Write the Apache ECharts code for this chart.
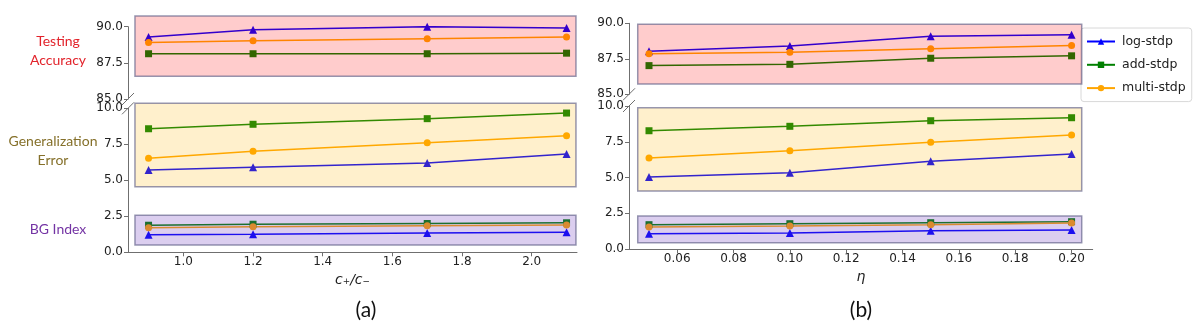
<!DOCTYPE html>
<html><head><meta charset="utf-8">
<script src="https://cdn.jsdelivr.net/npm/echarts@6/dist/echarts.min.js"></script>
<style>html,body{margin:0;padding:0;background:#fff}#c{width:1196px;height:329px}</style>
</head><body><div id="c"></div>
<script>
// ---------- data ----------
const seriesNames = ['log-stdp', 'add-stdp', 'multi-stdp'];
const ratioX = [0.9, 1.2, 1.7, 2.1];          // panel (a) x: c+/c-
const etaX = [0.05, 0.10, 0.15, 0.20];        // panel (b) x: eta
const ratioTicks = [1.0, 1.2, 1.4, 1.6, 1.8, 2.0];
const etaTicks = [0.06, 0.08, 0.10, 0.12, 0.14, 0.16, 0.18, 0.20];

// panel (a)
const aAccLog = [89.28, 89.79, 90.00, 89.91];
const aAccAdd = [88.13, 88.13, 88.13, 88.17];
const aAccMulti = [88.90, 89.02, 89.16, 89.28];
const aGenLog = [5.72, 5.90, 6.20, 6.83];
const aGenAdd = [8.58, 8.89, 9.28, 9.67];
const aGenMulti = [6.53, 7.01, 7.61, 8.10];
const aBgLog = [1.22, 1.25, 1.34, 1.39];
const aBgAdd = [1.88, 1.95, 2.00, 2.05];
const aBgMulti = [1.70, 1.77, 1.84, 1.89];

// panel (b)
const bAccLog = [88.04, 88.40, 89.09, 89.19];
const bAccAdd = [87.02, 87.11, 87.54, 87.71];
const bAccMulti = [87.86, 87.97, 88.21, 88.43];
const bGenLog = [5.03, 5.34, 6.13, 6.64];
const bGenAdd = [8.27, 8.58, 8.97, 9.18];
const bGenMulti = [6.36, 6.87, 7.46, 7.97];
const bBgLog = [1.07, 1.12, 1.28, 1.33];
const bBgAdd = [1.70, 1.77, 1.84, 1.91];
const bBgMulti = [1.54, 1.61, 1.70, 1.82];

// shaded band extents (data units)
const aBandX = [0.861, 2.127];
const bBandX = [0.046, 0.2036];
const aAccBand = [86.58, 90.74];
const aGenBand = [4.56, 10.35];
const aBgBand = [0.51, 2.57];
const bAccBand = [85.73, 89.93];
const bGenBand = [4.06, 9.88];
const bBgBand = [0.44, 2.31];

// axis ranges
const upperRange = [85, 90];
const lowerRange = [0, 10];
const aXRange = [0.841, 2.13];
const bXRange = [0.0429, 0.2075];

// ---------- styles ----------
const colors = {'log-stdp': '#0000ff', 'add-stdp': '#008000', 'multi-stdp': '#ffa500'};
const symbols = {'log-stdp': 'triangle', 'add-stdp': 'rect', 'multi-stdp': 'circle'};
const symSizes = {'log-stdp': 8, 'add-stdp': 7, 'multi-stdp': 7};
const AX = '#6f6f6f';
const TXT = '#222';
const FONT = 'DejaVu Sans';

function line(name, xs, ys, gi) {
  return {
    type: 'line', name, xAxisIndex: gi, yAxisIndex: gi,
    data: xs.map((x, i) => [x, ys[i]]),
    symbol: symbols[name], symbolSize: symSizes[name], showSymbol: true,
    lineStyle: {width: 1.5, color: colors[name]},
    itemStyle: {color: colors[name]},
    silent: true, animation: false, z: 2
  };
}
function band(gi, xr, yr, fill) {
  return {
    type: 'custom', xAxisIndex: gi, yAxisIndex: gi, z: 10, silent: true, clip: false,
    animation: false,
    data: [[xr[0], yr[0], xr[1], yr[1]]],
    encode: {x: [0, 2], y: [1, 3]},
    renderItem: (p, api) => {
      const p0 = api.coord([api.value(0), api.value(3)]);
      const p1 = api.coord([api.value(2), api.value(1)]);
      return {type: 'rect', shape: {x: p0[0], y: p0[1], width: p1[0] - p0[0], height: p1[1] - p0[1]},
        style: {fill: fill, stroke: 'rgba(95,95,135,0.65)', lineWidth: 1.5}};
    }
  };
}
function breakMark(gi, x, y) {
  return {
    type: 'custom', xAxisIndex: gi, yAxisIndex: gi, z: 11, silent: true, clip: false,
    animation: false,
    data: [[x, y]],
    renderItem: (p, api) => {
      const c = api.coord([api.value(0), api.value(1)]);
      return {type: 'line', shape: {x1: c[0] - 6, y1: c[1] + 6, x2: c[0] + 6, y2: c[1] - 6},
        style: {stroke: AX, lineWidth: 1}};
    }
  };
}
function yAxis(gi, r) {
  return {
    type: 'value', gridIndex: gi, min: r[0], max: r[1], interval: 2.5,
    splitLine: {show: false},
    axisLine: {show: true, lineStyle: {color: AX, width: 1}},
    axisTick: {show: true, length: 4, lineStyle: {color: AX}},
    axisLabel: {show: true, color: TXT, fontFamily: FONT, fontSize: 12, margin: 5,
      showMinLabel: true, showMaxLabel: true, formatter: v => v.toFixed(1)}
  };
}
function xAxis(gi, r, ticks, dec, show, name) {
  return {
    type: 'value', gridIndex: gi, min: r[0], max: r[1], show: show,
    splitLine: {show: false},
    axisLine: {show: true, onZero: false, lineStyle: {color: AX, width: 1}},
    axisTick: {show: true, length: 4, customValues: ticks, lineStyle: {color: AX}},
    axisLabel: {show: true, customValues: ticks, color: TXT, fontFamily: FONT, fontSize: 12, margin: 4,
      formatter: v => v.toFixed(dec)},
    name: name, nameLocation: 'middle', nameGap: 21,
    nameTextStyle: {fontFamily: FONT, fontStyle: 'italic', fontSize: 14, color: TXT}
  };
}

const grids = [
  {left: 128, top: 26.7, width: 449, height: 72.3},
  {left: 128, top: 108.3, width: 449, height: 144},
  {left: 629, top: 23.3, width: 463.7, height: 71},
  {left: 629, top: 106, width: 463.7, height: 143}
];

const series = [];
// panel (a)
series.push(line('log-stdp', ratioX, aAccLog, 0), line('add-stdp', ratioX, aAccAdd, 0), line('multi-stdp', ratioX, aAccMulti, 0));
series.push(line('log-stdp', ratioX, aGenLog, 1), line('add-stdp', ratioX, aGenAdd, 1), line('multi-stdp', ratioX, aGenMulti, 1));
series.push(line('log-stdp', ratioX, aBgLog, 1), line('add-stdp', ratioX, aBgAdd, 1), line('multi-stdp', ratioX, aBgMulti, 1));
// panel (b)
series.push(line('log-stdp', etaX, bAccLog, 2), line('add-stdp', etaX, bAccAdd, 2), line('multi-stdp', etaX, bAccMulti, 2));
series.push(line('log-stdp', etaX, bGenLog, 3), line('add-stdp', etaX, bGenAdd, 3), line('multi-stdp', etaX, bGenMulti, 3));
series.push(line('log-stdp', etaX, bBgLog, 3), line('add-stdp', etaX, bBgAdd, 3), line('multi-stdp', etaX, bBgMulti, 3));

const RED = 'rgba(255,0,0,0.2)', YEL = 'rgba(255,180,0,0.2)', PUR = 'rgba(110,60,190,0.25)';
series.push(band(0, aBandX, aAccBand, RED), band(1, aBandX, aGenBand, YEL), band(1, aBandX, aBgBand, PUR));
series.push(band(2, bBandX, bAccBand, RED), band(3, bBandX, bGenBand, YEL), band(3, bBandX, bBgBand, PUR));
series.push(breakMark(0, aXRange[0], upperRange[0]), breakMark(1, aXRange[0], lowerRange[1]));
series.push(breakMark(2, bXRange[0], upperRange[0]), breakMark(3, bXRange[0], lowerRange[1]));

const LBL = 'Lato';
const option = {
  animation: false,
  backgroundColor: '#fff',
  grid: grids,
  xAxis: [
    xAxis(0, aXRange, ratioTicks, 1, false, ''),
    xAxis(1, aXRange, ratioTicks, 1, true, 'c\u208A/c\u208B'),
    xAxis(2, bXRange, etaTicks, 2, false, ''),
    xAxis(3, bXRange, etaTicks, 2, true, '\u03B7')
  ],
  yAxis: [yAxis(0, upperRange), yAxis(1, lowerRange), yAxis(2, upperRange), yAxis(3, lowerRange)],
  legend: {
    data: seriesNames, orient: 'vertical', left: 1081, top: 28,
    itemWidth: 28, itemHeight: 8, itemGap: 10.3, padding: [7, 6, 7, 5],
    backgroundColor: '#fff', borderColor: '#d8d8d8', borderWidth: 1, borderRadius: 3,
    textStyle: {fontFamily: FONT, fontSize: 12.5, color: TXT, padding: [0, 0, 0, 2]}
  },
  graphic: [
    {type: 'text', style: {x: 58, y: 51, text: 'Testing\nAccuracy', align: 'center', verticalAlign: 'middle', lineHeight: 18.3, fill: '#e2232b', font: '14px ' + LBL}},
    {type: 'text', style: {x: 53, y: 151, text: 'Generalization\nError', align: 'center', verticalAlign: 'middle', lineHeight: 18.3, fill: '#85702a', font: '14px ' + LBL}},
    {type: 'text', style: {x: 58, y: 229, text: 'BG Index', align: 'center', verticalAlign: 'middle', fill: '#7434a4', font: '14px ' + LBL}},
    {type: 'text', style: {x: 366, y: 310, text: '(a)', align: 'center', verticalAlign: 'middle', fill: '#111', font: '21px ' + LBL}},
    {type: 'text', style: {x: 861, y: 310, text: '(b)', align: 'center', verticalAlign: 'middle', fill: '#111', font: '21px ' + LBL}}
  ],
  series: series
};
const chart = echarts.init(document.getElementById('c'), null, {renderer: 'canvas'});
chart.setOption(option);
</script>
</body></html>
